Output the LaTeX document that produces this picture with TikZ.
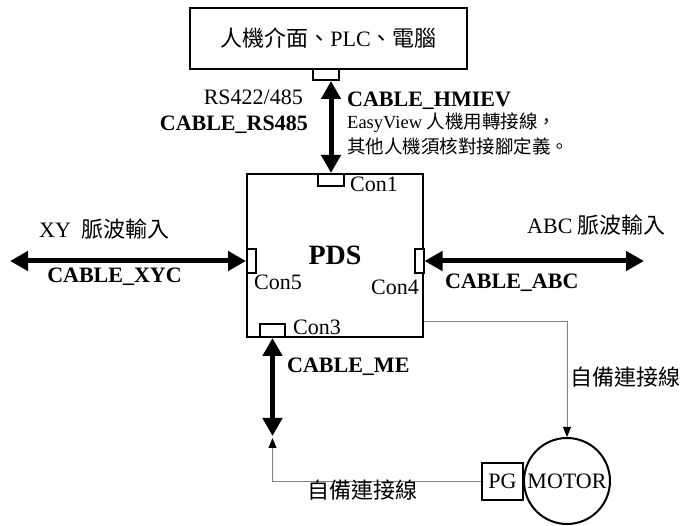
\documentclass[tikz,border=0pt]{standalone}
\usepackage{fontspec}
\setmainfont{Liberation Serif}
\newfontfamily\cjk{Noto Sans CJK TC}
\usetikzlibrary{arrows.meta}

\begin{document}
\begin{tikzpicture}[x=1pt,y=-1pt,
    pdsBox/.style={draw,line width=2pt,inner sep=0pt,font=\fontsize{22}{26}\selectfont},
    pdsCon/.style={draw,line width=2pt,inner sep=0pt,fill=white},
    pdsTxt/.style={inner sep=0pt,font=\fontsize{22}{26}\selectfont},
    pdsBold/.style={inner sep=0pt,font=\fontsize{22}{26}\selectfont\bfseries},
    pdsNote/.style={inner sep=0pt,font=\fontsize{18.5}{22}\selectfont},
    pdsCable/.style={line width=5pt,{Triangle[length=18pt,width=19pt]}-{Triangle[length=18pt,width=19pt]}},
    pdsWire/.style={gray,line width=1pt,-{Triangle[length=10pt,width=8pt,black]}},
]
\useasboundingbox (0,0) rectangle (681,526);
% HMI / PLC box
\node[pdsBox,minimum width=277pt,minimum height=61pt] (hmi) at (328.5,38.5) {{\cjk 人機介面、}PLC{\cjk 、電腦}};
\node[pdsCon,minimum width=26pt,minimum height=11pt] (hmicon) at (326,74.5) {};
% PDS box and connectors
\node[pdsBox,minimum width=176pt,minimum height=163pt,font=\fontsize{28}{32}\selectfont\bfseries] (pds) at (335,255.5) {PDS};
\node[pdsCon,minimum width=26pt,minimum height=12pt] (con1) at (331,180) {};
\node[pdsCon,minimum width=9pt,minimum height=24pt] (con5) at (251.5,261) {};
\node[pdsCon,minimum width=9pt,minimum height=24pt] (con4) at (419,261) {};
\node[pdsCon,minimum width=25pt,minimum height=13pt] (con3) at (272.5,330.5) {};
\node[pdsTxt,anchor=west] (con1txt) at (350,184) {Con1};
\node[pdsTxt,anchor=west] (con5txt) at (254,282) {Con5};
\node[pdsTxt,anchor=east] (con4txt) at (419,287) {Con4};
\node[pdsTxt,anchor=west] (con3txt) at (293,327) {Con3};
% motor
\node[draw,circle,line width=2pt,inner sep=0pt,minimum size=86pt,font=\fontsize{22}{26}\selectfont] (motor) at (567,481) {MOTOR};
\node[pdsBox,minimum width=41pt,minimum height=37pt] (pg) at (502.5,481.5) {PG};
% cables
\draw[pdsCable] (con1.north |- hmicon.south) -- (con1.north);
\coordinate (xyEnd) at (10,261);
\draw[pdsCable] (xyEnd) -- (con5.west);
\coordinate (abcEnd) at (644,261);
\draw[pdsCable] (con4.east) -- (abcEnd);
\coordinate (meEnd) at (272.5,436);
\draw[pdsCable] (con3.south) -- (meEnd);
% wires (self-made)
\coordinate (pdsOut) at (424,322);
\draw[pdsWire] (pdsOut) -| (motor.north);
\coordinate (meTip) at (272.5,438);
\draw[pdsWire] (pg.west) -| (meTip);
% labels
\node[pdsTxt,anchor=east] (rstxt) at (303,97) {RS422/485};
\node[pdsBold,anchor=east] (rscable) at (308,125) {CABLE\_RS485};
\node[pdsBold,anchor=west] (hmicable) at (347,101) {CABLE\_HMIEV};
\node[pdsNote,anchor=west] (hminote1) at (347,123) {EasyView {\cjk 人機用轉接線，}};
\node[pdsNote,anchor=west] (hminote2) at (347,146) {\cjk 其他人機須核對接腳定義。};
\node[pdsTxt,anchor=west] (xytxt) at (39,229) {XY\ \ {\cjk 脈波輸入}};
\node[pdsBold] (xycable) at (114.5,277) {CABLE\_XYC};
\node[pdsTxt,anchor=west] (abctxt) at (527,225) {ABC {\cjk 脈波輸入}};
\node[pdsBold,anchor=west] (abccable) at (445,283) {CABLE\_ABC};
\node[pdsBold,anchor=west] (mecable) at (287,367) {CABLE\_ME};
\node[pdsTxt,anchor=west] (selftxt1) at (570,377) {\cjk 自備連接線};
\node[pdsTxt,anchor=west] (selftxt2) at (307,490) {\cjk 自備連接線};
\end{tikzpicture}
\end{document}
